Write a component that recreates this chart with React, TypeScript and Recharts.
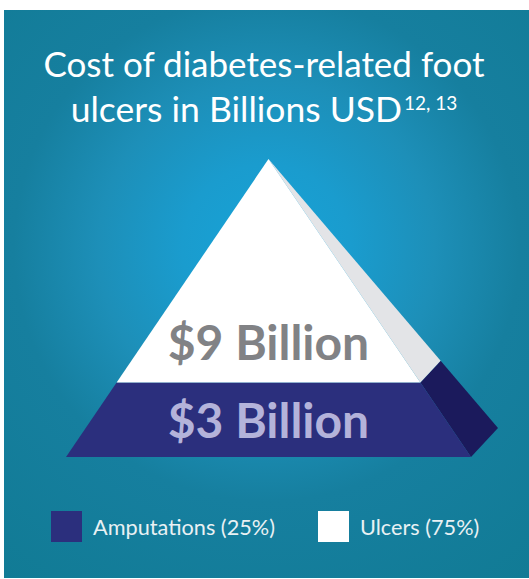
import { BarChart, Bar, XAxis, YAxis, Legend, LabelList } from 'recharts'

// values (billions USD)
const seriesNames = ['Amputations', 'Ulcers']
const seriesKeys = ['amputations', 'ulcers']
const costBillions = [3, 9]

const frontColors = ['#2b2f7d', '#ffffff']
const sideColors = ['#1b1a5c', '#e3e4e7']
const valueColors = ['#b4b3da', '#818285']
const labelLift = [19, 23]

const total = costBillions.reduce((a, b) => a + b, 0)
const data = [
  seriesKeys.reduce((row, key, i) => ({ ...row, [key]: costBillions[i] }), { name: 'cost' } as Record<string, any>),
]

const W = 529
const H = 579
const margin = { top: 159, right: 58, bottom: 122, left: 66 }
const apexY = margin.top
const baseY = H - margin.bottom
// offset of the back-right base corner (the side face)
const DX = 27
const DY = -29

function makeSlice(front: string, side: string) {
  return (p: any) => {
    const { x, y, width, height } = p
    const span = baseY - apexY
    const cx = x + width / 2
    const half = (yy: number) => ((width / 2) * (yy - apexY)) / span
    const depth = (yy: number) => (yy - apexY) / span
    const y1 = y
    const y2 = y + height
    const fr = [
      [cx - half(y1), y1],
      [cx + half(y1), y1],
      [cx + half(y2), y2],
      [cx - half(y2), y2],
    ]
    const sd = [
      [cx + half(y1), y1],
      [cx + half(y1) + DX * depth(y1), y1 + DY * depth(y1)],
      [cx + half(y2) + DX * depth(y2), y2 + DY * depth(y2)],
      [cx + half(y2), y2],
    ]
    const pts = (a: number[][]) => a.map((q) => q.join(',')).join(' ')
    return (
      <g>
        <polygon points={pts(sd)} fill={side} />
        <polygon points={pts(fr)} fill={front} />
      </g>
    )
  }
}

function makeValueLabel(color: string, lift: number) {
  return (p: any) => {
    const { x, y, width, height, value } = p
    return (
      <text
        x={Number(x) + Number(width) / 2}
        y={Number(y) + Number(height) - lift}
        textAnchor="middle"
        fill={color}
        fontFamily="Lato"
        fontWeight={700}
        fontSize={48}
      >
        {`$${value} Billion`}
      </text>
    )
  }
}

function LegendRow({ payload }: any) {
  return (
    <div style={{ display: 'flex', alignItems: 'center', fontFamily: 'Lato', fontSize: 21.7, color: '#e9f1f4' }}>
      {(payload || []).map((entry: any, i: number) => (
        <div key={entry.value} style={{ display: 'flex', alignItems: 'center', marginRight: i === 0 ? 43 : 0 }}>
          <div style={{ width: 31, height: 31, background: entry.color, marginRight: 11 }} />
          <span>{entry.value}</span>
        </div>
      ))}
    </div>
  )
}

export default function App() {
  return (
    <div style={{ position: 'absolute', left: 0, top: 0, width: W, height: H, background: '#fff', overflow: 'hidden' }}>
      <div
        style={{
          position: 'absolute',
          left: 4,
          top: 10,
          width: W - 4,
          height: 568,
          background:
            'radial-gradient(circle at 50% 42%, #17a3d7 0%, #1a9cce 20%, #1d8fb8 40%, #167f9f 60%, #117b95 100%)',
        }}
      />
      <svg width={W} height={140} style={{ position: 'absolute', left: 0, top: 0 }}>
        <text x={264} y={77} textAnchor="middle" fill="#fff" fontFamily="Lato" fontSize={35}>
          Cost of diabetes-related foot
        </text>
        <text x={264} y={122} textAnchor="middle" fill="#fff" fontFamily="Lato" fontSize={35.5}>
          ulcers in Billions USD
          <tspan fontSize={19} dx={2} dy={-12}>
            12, 13
          </tspan>
        </text>
      </svg>
      <div style={{ position: 'absolute', left: 0, top: 0 }}>
        <BarChart width={W} height={H} data={data} margin={margin} barCategoryGap={0}>
          <XAxis dataKey="name" hide />
          <YAxis hide domain={[0, total]} />
          <Legend
            layout="horizontal"
            verticalAlign="middle"
            align="center"
            wrapperStyle={{ top: 511, left: 51, width: 460, height: 31 }}
            content={<LegendRow />}
          />
          {seriesKeys.map((key, i) => (
            <Bar
              key={key}
              dataKey={key}
              name={`${seriesNames[i]} (${Math.round((costBillions[i] / total) * 100)}%)`}
              stackId="pyramid"
              fill={frontColors[i]}
              shape={makeSlice(frontColors[i], sideColors[i])}
              isAnimationActive={false}
            >
              <LabelList dataKey={key} content={makeValueLabel(valueColors[i], labelLift[i])} />
            </Bar>
          ))}
        </BarChart>
      </div>
    </div>
  )
}
